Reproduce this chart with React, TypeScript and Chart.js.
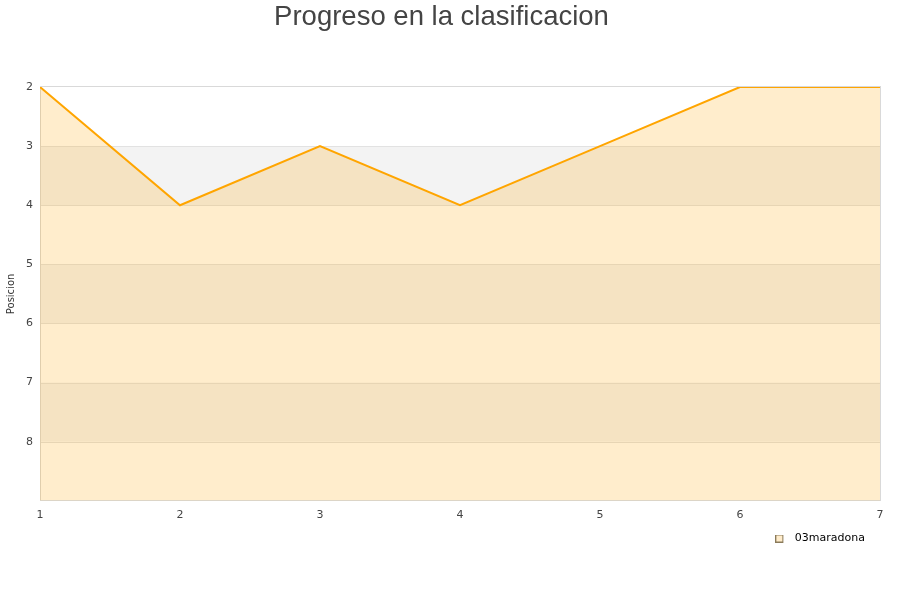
import React, { useEffect, useRef } from "react";
import { Chart, registerables } from "chart.js";
Chart.register(...registerables);

const jornadas = [1, 2, 3, 4, 5, 6, 7];
const posiciones = [2, 4, 3, 4, 3, 2, 2];
const seriesName = "03maradona";
const titleText = "Progreso en la clasificacion";
const yTitle = "Posicion";
const yMin = 2;
const yMax = 9;

const bandsPlugin = {
  id: "bands",
  afterLayout(chart: any) {
    const lg = chart.legend;
    if (lg) {
      lg.left -= 5;
      lg.right -= 5;
      lg.top -= 7;
      lg.bottom -= 7;
    }
  },
  beforeDatasetsDraw(chart: any) {
    const { ctx, chartArea, scales } = chart;
    const y = scales.y;
    ctx.save();
    for (let v = yMin; v < yMax; v++) {
      if ((v - yMin) % 2 === 1) {
        const a = y.getPixelForValue(v);
        const b = y.getPixelForValue(v + 1);
        ctx.fillStyle = "#f3f3f3";
        ctx.fillRect(chartArea.left, Math.min(a, b), chartArea.right - chartArea.left, Math.abs(b - a));
      }
    }
    ctx.lineWidth = 1;
    for (let v = yMin + 1; v < yMax; v++) {
      const p = Math.round(y.getPixelForValue(v)) + 0.5;
      ctx.strokeStyle = "#e2e2e2";
      ctx.beginPath();
      ctx.moveTo(chartArea.left, p);
      ctx.lineTo(chartArea.right, p);
      ctx.stroke();
    }
    ctx.strokeStyle = "#d9d9d9";
    ctx.strokeRect(
      Math.round(chartArea.left) + 0.5,
      Math.round(chartArea.top) - 0.5,
      Math.round(chartArea.right - chartArea.left),
      Math.round(chartArea.bottom - chartArea.top)
    );
    ctx.restore();
  },
};

function makeLegendIcon() {
  const c = document.createElement("canvas");
  c.width = 14;
  c.height = 8;
  const g = c.getContext("2d") as CanvasRenderingContext2D;
  g.fillStyle = "#ffeccb";
  g.fillRect(0, 0, 8, 8);
  g.strokeStyle = "#8a7a5a";
  g.lineWidth = 1;
  g.strokeRect(0.5, 0.5, 7, 7);
  return c;
}

export default function App() {
  const ref = useRef<HTMLCanvasElement>(null);
  useEffect(() => {
    const icon = makeLegendIcon();
    const chart = new Chart(ref.current as HTMLCanvasElement, {
      type: "line",
      data: {
        datasets: [
          {
            label: seriesName,
            data: jornadas.map((x, i) => ({ x, y: posiciones[i] })),
            borderColor: "#ffa500",
            backgroundColor: "rgba(255,165,0,0.2)",
            borderWidth: 2,
            pointRadius: 0,
            tension: 0,
            fill: { value: yMax },
          },
        ],
      },
      options: {
        animation: false,
        responsive: false,
        layout: { padding: { left: 3, right: 20, top: 0, bottom: 39 } },
        plugins: {
          title: {
            display: true,
            text: titleText,
            color: "#444",
            font: { family: "'Liberation Sans', Arial, sans-serif", size: 27.5, weight: "normal" },
            padding: { top: 1, bottom: 53 },
          },
          legend: {
            position: "bottom",
            align: "end",
            labels: {
              color: "#111",
              font: { family: "'DejaVu Sans', sans-serif", size: 11 },
              usePointStyle: true,
              pointStyleWidth: 14,
              boxHeight: 8,
              padding: 10,
              generateLabels: () => [
                {
                  text: seriesName,
                  fillStyle: "rgba(255,165,0,0.2)",
                  strokeStyle: "#8a6d3b",
                  lineWidth: 1,
                  pointStyle: icon,
                  datasetIndex: 0,
                },
              ],
            },
          },
          tooltip: { enabled: false },
        },
        scales: {
          x: {
            type: "linear",
            min: 1,
            max: 7,
            ticks: {
              stepSize: 1,
              color: "#444",
              padding: 8,
              font: { family: "'DejaVu Sans', sans-serif", size: 11 },
            },
            grid: { display: false, drawTicks: false },
            border: { display: false },
          },
          y: {
            type: "linear",
            min: yMin,
            max: yMax,
            reverse: true,
            ticks: {
              stepSize: 1,
              color: "#444",
              padding: 7,
              font: { family: "'DejaVu Sans', sans-serif", size: 11 },
              callback: (v: any) => (v === yMax ? "" : String(v)),
            },
            grid: { display: false, drawTicks: false },
            border: { display: false },
            title: {
              display: true,
              text: yTitle,
              color: "#333",
              font: { family: "'DejaVu Sans', sans-serif", size: 10 },
              padding: 2,
            },
          },
        },
      },
      plugins: [bandsPlugin],
    } as any);
    return () => chart.destroy();
  }, []);
  return (
    <div style={{ position: "fixed", left: 0, top: 0, width: 900, height: 600, background: "#fff" }}>
      <canvas ref={ref} width={900} height={600} />
    </div>
  );
}
